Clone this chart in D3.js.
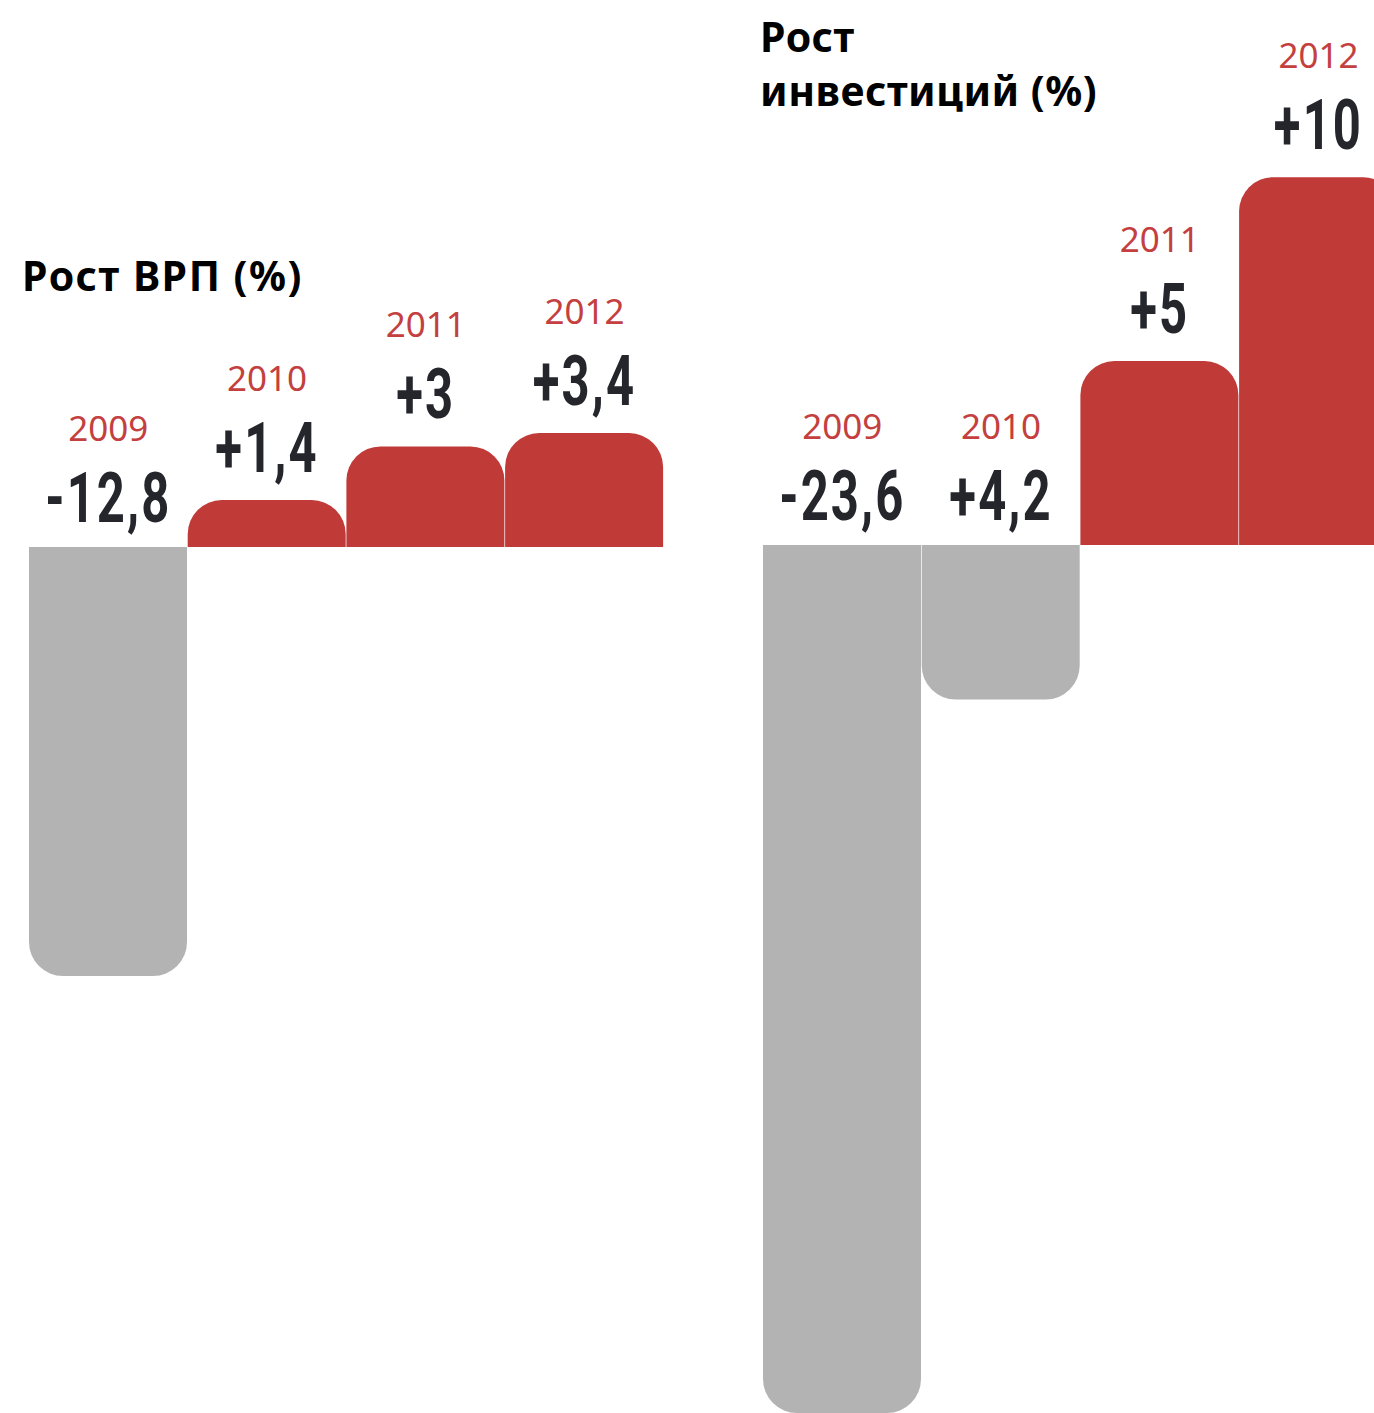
<!DOCTYPE html>
<html><head><meta charset="utf-8">
<script src="https://cdn.jsdelivr.net/npm/d3@7"></script>
<style>
html,body{margin:0;padding:0;background:#fff;overflow:hidden}
svg{display:block}
</style></head>
<body>
<script>
// ---- data ----
const years = ["2009", "2010", "2011", "2012"];
const grpValues = [-12.8, 1.4, 3, 3.4];
const grpLabels = ["-12,8", "+1,4", "+3", "+3,4"];
const invValues = [-23.6, -4.2, 5, 10];
const invLabels = ["-23,6", "+4,2", "+5", "+10"];
const grpTitle = ["Рост ВРП (%)"];
const invTitle = ["Рост", "инвестиций (%)"];

const W = 1374, H = 1413;
const RED = "#c03a38", GRAY = "#b3b3b3", DARK = "#25262c", YEAR = "#c4403f";
const svg = d3.select("body").append("svg").attr("width", W).attr("height", H);

function barPath(x0, x1, yBase, yEnd, r) {
  const h = Math.abs(yEnd - yBase);
  const rr = Math.min(r, h, (x1 - x0) / 2);
  if (yEnd < yBase) { // up
    return `M${x0},${yBase}V${yEnd + rr}A${rr},${rr} 0 0 1 ${x0 + rr},${yEnd}H${x1 - rr}A${rr},${rr} 0 0 1 ${x1},${yEnd + rr}V${yBase}Z`;
  } else { // down
    return `M${x0},${yBase}V${yEnd - rr}A${rr},${rr} 0 0 0 ${x0 + rr},${yEnd}H${x1 - rr}A${rr},${rr} 0 0 0 ${x1},${yEnd - rr}V${yBase}Z`;
  }
}

function drawChart(cfg) {
  const g = svg.append("g");
  const x = d3.scaleBand().domain(years).range(cfg.xRange).padding(0);
  const y = d3.scaleLinear().domain(cfg.yDomain).range(cfg.yRange);
  const data = years.map((yr, i) => ({ yr, v: cfg.values[i], label: cfg.labels[i] }));
  const y0 = y(0);

  g.selectAll("path.bar").data(data).join("path")
    .attr("class", "bar")
    .attr("fill", d => d.v < 0 ? GRAY : RED)
    .attr("d", d => barPath(x(d.yr), x(d.yr) + x.bandwidth() - 0.7, y0, y(d.v), 34));

  const labelY = d => d.v < 0 ? y0 - 25 : y(d.v) - 28;
  const cx = d => x(d.yr) + x.bandwidth() / 2;

  g.selectAll("text.val").data(data).join("text")
    .attr("class", "val")
    .attr("transform", d => `translate(${cx(d)},${labelY(d)}) scale(0.7,1)`)
    .attr("text-anchor", "middle")
    .attr("fill", DARK)
    .style("font-family", "Roboto,sans-serif")
    .style("font-weight", "700")
    .style("font-size", "70px")
    .style("letter-spacing", "3px")
    .text(d => d.label);

  g.selectAll("text.yr").data(data).join("text")
    .attr("class", "yr")
    .attr("x", cx)
    .attr("y", d => labelY(d) - 81)
    .attr("text-anchor", "middle")
    .attr("fill", YEAR)
    .style("font-family", "'Noto Sans',sans-serif")
    .style("font-size", "35px")
    .text(d => d.yr);

  g.selectAll("text.title").data(cfg.title).join("text")
    .attr("class", "title")
    .attr("x", cfg.titleX)
    .attr("y", (d, i) => cfg.titleY + i * 54)
    .attr("fill", "#000")
    .style("font-family", "'Noto Sans',sans-serif")
    .style("font-weight", "700")
    .style("font-size", "41px")
    .style("letter-spacing", cfg.titleSpacing)
    .text(d => d);
}

drawChart({
  values: grpValues, labels: grpLabels, title: grpTitle,
  xRange: [29, 29 + 4 * 158.7],
  yDomain: [-12.8, 0], yRange: [976, 547],
  titleX: 22, titleY: 291, titleSpacing: "1.5px"
});
drawChart({
  values: invValues, labels: invLabels, title: invTitle,
  xRange: [763, 763 + 4 * 158.7],
  yDomain: [-23.6, 0], yRange: [1413, 545],
  titleX: 760, titleY: 52, titleSpacing: "0.5px"
});
</script>
</body></html>
